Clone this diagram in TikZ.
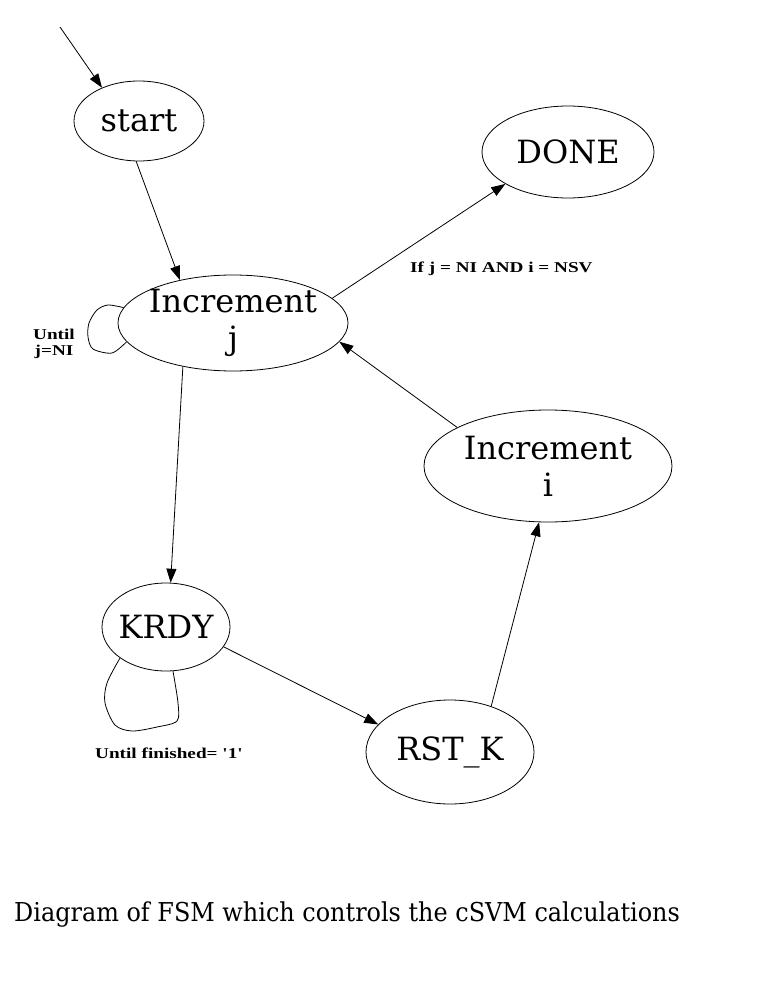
\documentclass[tikz,border=0pt]{standalone}
\usepackage{fontspec}
\usetikzlibrary{shapes.geometric,arrows.meta}
\newfontfamily\statefont{DejaVu Serif}
\newfontfamily\lblfont[FakeStretch=1.28]{Liberation Serif}
\newfontfamily\capfont[FakeStretch=0.92]{DejaVu Serif}
\tikzset{
  stateshape/.style={draw, ellipse, inner sep=0pt, line width=0.8pt},
  statetext/.style={font=\statefont\fontsize{32}{37}\selectfont, align=center, inner sep=0pt},
  lbl/.style={font=\lblfont\bfseries\fontsize{15}{16}\selectfont, align=center, inner sep=0pt},
  conn/.style={line width=0.8pt, -{Triangle[length=14pt,width=10pt]}},
  loopline/.style={line width=0.8pt}
}
\begin{document}
\begin{tikzpicture}[x=1pt,y=-1pt]
\useasboundingbox (0,0) rectangle (768,1008);
\fill[white] (0,0) rectangle (768,1008);
% states
\node[stateshape, minimum width=130pt, minimum height=80pt] (start) at (139,121) {};
\node[statetext] at (start) {start};
\node[stateshape, minimum width=172pt, minimum height=92pt] (done) at (568,152) {};
\node[statetext] at (done) {DONE};
\node[stateshape, minimum width=230pt, minimum height=96pt] (incj) at (233,323) {};
\node[statetext] at (incj) {Increment\\j};
\node[stateshape, minimum width=248pt, minimum height=112pt] (inci) at (548,466) {};
\node[statetext] at (inci) {Increment\\i};
\node[stateshape, minimum width=128pt, minimum height=88pt] (krdy) at (166,627) {};
\node[statetext] at (krdy) {KRDY};
\node[stateshape, minimum width=168pt, minimum height=104pt] (rstk) at (450,752) {};
\node[statetext] at (rstk) {RST\_K};
% initial arrow
\coordinate (init) at (60,27);
\draw[conn] (init) -- (start.138);
% transitions
\draw[conn] (start.266) -- (incj.141.7);
\draw[conn] (incj.14.7) -- (done.207.9);
\draw[conn] (incj.221.6) -- (krdy.84.8);
\draw[conn] (krdy.341) -- (rstk.159);
\draw[conn] (rstk.48.7) -- (inci.261.9);
\draw[conn] (inci.157.3) -- (incj.350);
% self loops
\draw[loopline] plot[smooth, tension=0.5] coordinates {(incj.172) (108,305) (97,310) (89,323) (88,337) (93,349) (112,353) (incj.190.7)};
\draw[loopline] plot[smooth, tension=0.5] coordinates {(krdy.214) (107,683) (105,703) (115,725) (132,731) (157,727) (177,721) (178,703) (krdy.279)};
% labels
\node[lbl] (lj) at (54,344) {Until\\j=NI};
\node[lbl, anchor=west] (ldone) at (410,269) {If j = NI AND i = NSV};
\node[lbl, anchor=west] (lk) at (95,753) {Until finished= '1'};
\node[font=\capfont\fontsize{26}{30}\selectfont, anchor=west, inner sep=0pt] (cap) at (14,914) {Diagram of FSM which controls the cSVM calculations};
\end{tikzpicture}
\end{document}
